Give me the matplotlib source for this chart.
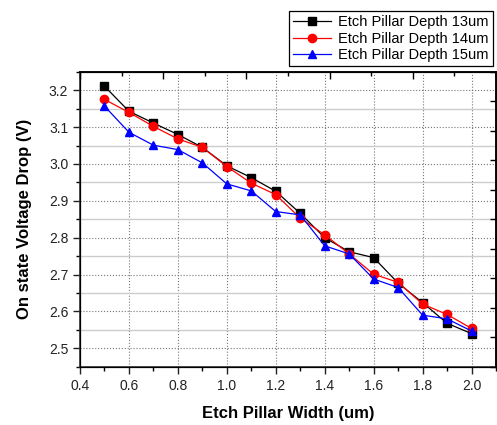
import matplotlib
matplotlib.use("Agg")
import matplotlib.pyplot as plt
from matplotlib.ticker import MultipleLocator

plt.rcParams['font.family'] = ['Liberation Sans', 'DejaVu Sans']

# pillar width (um) and on-state voltage drop (V) for each etch depth
width = [0.5, 0.6, 0.7, 0.8, 0.9, 1.0, 1.1, 1.2, 1.3, 1.4, 1.5, 1.6, 1.7, 1.8, 1.9, 2.0]
depth_13 = [3.211, 3.143, 3.111, 3.080, 3.045, 2.995, 2.963, 2.926, 2.866, 2.800,
            2.762, 2.746, 2.677, 2.624, 2.568, 2.540]
depth_14 = [3.175, 3.140, 3.102, 3.068, 3.045, 2.993, 2.948, 2.917, 2.853, 2.808,
            2.756, 2.701, 2.679, 2.620, 2.592, 2.554]
depth_15 = [3.157, 3.086, 3.051, 3.039, 3.003, 2.946, 2.927, 2.871, 2.862, 2.778,
            2.756, 2.688, 2.665, 2.590, 2.580, 2.547]

fig = plt.figure(figsize=(4.97, 4.25), dpi=100)
ax = fig.add_axes([0.161, 0.137, 0.837, 0.694])

ax.plot(width, depth_13, '-s', color='black', lw=0.9, ms=5.5, label='Etch Pillar Depth 13um', zorder=3)
ax.plot(width, depth_14, '-o', color='red', lw=0.9, ms=6, label='Etch Pillar Depth 14um', zorder=4)
ax.plot(width, depth_15, '-^', color='blue', lw=0.9, ms=6, label='Etch Pillar Depth 15um', zorder=5)

ax.set_xlim(0.4, 2.1)
ax.set_ylim(2.45, 3.25)
ax.xaxis.set_major_locator(MultipleLocator(0.2))
ax.xaxis.set_minor_locator(MultipleLocator(0.1))
ax.yaxis.set_major_locator(MultipleLocator(0.1))
ax.yaxis.set_minor_locator(MultipleLocator(0.05))
ax.xaxis.set_major_formatter(matplotlib.ticker.FormatStrFormatter('%.1f'))
ax.yaxis.set_major_formatter(matplotlib.ticker.FormatStrFormatter('%.1f'))

ax.grid(True, which='major', color='#777777', linestyle=':', linewidth=0.8, zorder=0)
ax.grid(True, which='minor', axis='y', color='#cccccc', linestyle='-', linewidth=1.0, zorder=0)
ax.set_axisbelow(True)

ax.tick_params(which='major', direction='out', length=5, width=1, labelsize=10, colors='#222222')
ax.tick_params(which='minor', direction='out', length=3, width=1)

for s in ax.spines.values():
    s.set_linewidth(1.2)
    s.set_color('#333333')

ax.set_xlabel('Etch Pillar Width (um)', fontsize=12, fontweight='bold', labelpad=10)
ax.set_ylabel('On state Voltage Drop (V)', fontsize=12, fontweight='bold', labelpad=12)

# top and right frame ticks (independent spacing, as in the original)
ax_top = ax.twiny()
ax_top.set_xlim(0, 5)
ax_top.xaxis.set_major_locator(MultipleLocator(1))
ax_top.xaxis.set_minor_locator(MultipleLocator(0.5))
ax_top.tick_params(which='major', direction='in', length=5, width=1, labeltop=False)
ax_top.tick_params(which='minor', direction='in', length=3, width=1)
ax_top.spines['top'].set_linewidth(1.2)

ax_right = ax.twinx()
ax_right.set_ylim(0, 10)
ax_right.yaxis.set_major_locator(MultipleLocator(1))
ax_right.tick_params(which='major', direction='in', length=4, width=1, labelright=False)
ax_right.spines['right'].set_linewidth(1.2)

leg = ax.legend(loc='upper right', bbox_to_anchor=(0.992, 0.974), bbox_transform=fig.transFigure,
                fontsize=10.5, frameon=True, fancybox=False, edgecolor='black', framealpha=1,
                handlelength=2.6, labelspacing=0.15, borderpad=0.3, handletextpad=0.5, borderaxespad=0)
leg.get_frame().set_linewidth(0.9)

fig.savefig('out.png', dpi=100)
